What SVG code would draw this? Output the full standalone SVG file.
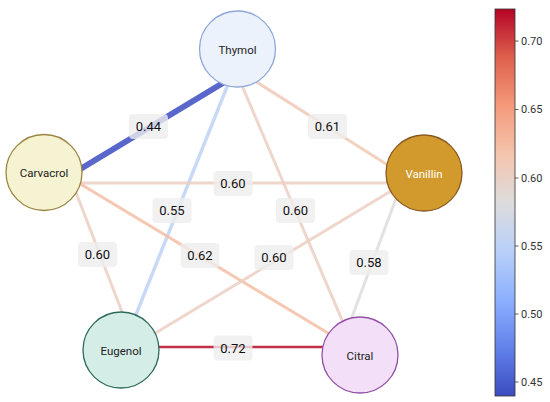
<svg xmlns="http://www.w3.org/2000/svg" width="550" height="402" viewBox="0 0 550 402">
<defs>
<linearGradient id="cw" x1="0" y1="1" x2="0" y2="0">
<stop offset="0" stop-color="#3b4cc0"/>
<stop offset="0.125" stop-color="#6282ea"/>
<stop offset="0.25" stop-color="#8db0fe"/>
<stop offset="0.375" stop-color="#b8d0f9"/>
<stop offset="0.5" stop-color="#dddcdc"/>
<stop offset="0.625" stop-color="#f5c4ad"/>
<stop offset="0.75" stop-color="#f49a7b"/>
<stop offset="0.875" stop-color="#de604d"/>
<stop offset="1" stop-color="#b40426"/>
</linearGradient>
<style>
.e{fill:none;stroke-linecap:butt;stroke-opacity:0.85}
.n{stroke-width:1.3}
.nt{font-family:Roboto,"Liberation Sans",sans-serif;font-size:11.5px;fill:#222;text-anchor:middle;dominant-baseline:central}
.lb{fill:#eeeeee;fill-opacity:0.8}
.lt{font-family:Roboto,"Liberation Sans",sans-serif;font-size:13px;fill:#111;text-anchor:middle;dominant-baseline:central}
.tk{font-family:Roboto,"Liberation Sans",sans-serif;font-size:11px;fill:#333;dominant-baseline:central}
</style>
</defs>
<rect width="550" height="402" fill="#fff"/>
<g id="connectors">
<line class="e" x1="71.7" y1="174.2" x2="233.3" y2="76.8" stroke="#3b4cc0" stroke-width="6"/>
<line class="e" x1="248" y1="76.6" x2="398" y2="171.4" stroke="#f0c9b6" stroke-width="3"/>
<line class="e" x1="230.7" y1="77.7" x2="131.3" y2="326.3" stroke="#bdd2f6" stroke-width="3.5"/>
<line class="e" x1="239.1" y1="78.8" x2="345.9" y2="329.2" stroke="#ebcfc3" stroke-width="3"/>
<line class="e" x1="70" y1="183" x2="400" y2="183" stroke="#ebcfc3" stroke-width="3"/>
<line class="e" x1="73.4" y1="185.7" x2="125.6" y2="321.3" stroke="#ebcfc3" stroke-width="3"/>
<line class="e" x1="73.4" y1="179.8" x2="336.6" y2="338.2" stroke="#f5bea4" stroke-width="3"/>
<line class="e" x1="148.4" y1="337.2" x2="400.6" y2="185.3" stroke="#ebcfc3" stroke-width="3"/>
<line class="e" x1="348.5" y1="326.4" x2="397.1" y2="195.6" stroke="#dcdddd" stroke-width="3"/>
<line class="e" x1="150" y1="347" x2="335" y2="347" stroke="#b70c28" stroke-width="2.5"/>
</g>
<g id="edge-labels">
<rect class="lb" x="129" y="114" width="39" height="25" rx="4"/><text class="lt" x="148.5" y="126.5">0.44</text>
<rect class="lb" x="308" y="114" width="39" height="25" rx="4"/><text class="lt" x="327.5" y="126.5">0.61</text>
<rect class="lb" x="213.5" y="171" width="39" height="25" rx="4"/><text class="lt" x="233" y="183.5">0.60</text>
<rect class="lb" x="152.5" y="198" width="39" height="25" rx="4"/><text class="lt" x="172" y="210.5">0.55</text>
<rect class="lb" x="276" y="198" width="39" height="25" rx="4"/><text class="lt" x="295.5" y="210.5">0.60</text>
<rect class="lb" x="78" y="242" width="39" height="25" rx="4"/><text class="lt" x="97.5" y="254.5">0.60</text>
<rect class="lb" x="180.5" y="243" width="39" height="25" rx="4"/><text class="lt" x="200" y="255.5">0.62</text>
<rect class="lb" x="254.5" y="245" width="39" height="25" rx="4"/><text class="lt" x="274" y="257.5">0.60</text>
<rect class="lb" x="349.5" y="250" width="39" height="25" rx="4"/><text class="lt" x="369" y="262.5">0.58</text>
<rect class="lb" x="213.5" y="335.5" width="39" height="25" rx="4"/><text class="lt" x="233" y="348">0.72</text>
</g>
<g id="thymol"><circle class="n" cx="237.5" cy="49" r="38" fill="#ebf2fc" stroke="#8ea8d8"/><text class="nt" x="237.5" y="49.5">Thymol</text></g>
<g id="carvacrol"><circle class="n" cx="44" cy="172.5" r="38" fill="#f6f3d3" stroke="#9c8540"/><text class="nt" x="44" y="173">Carvacrol</text></g>
<g id="vanillin"><circle class="n" cx="424" cy="173" r="38" fill="#d29a2c" stroke="#8a5a22"/><text class="nt" x="424" y="173.5" style="fill:#fff">Vanillin</text></g>
<g id="eugenol"><circle class="n" cx="121" cy="350" r="38" fill="#d5ede7" stroke="#2f6a5a"/><text class="nt" x="121" y="350.5">Eugenol</text></g>
<g id="citral"><circle class="n" cx="360" cy="355" r="38" fill="#f3e0f8" stroke="#9150a6"/><text class="nt" x="360" y="355.5">Citral</text></g>
<g id="colorbar">
<rect x="495" y="9" width="20" height="387" fill="url(#cw)" stroke="#333" stroke-width="0.8"/>
<g stroke="#333" stroke-width="0.8">
<line x1="515" y1="41" x2="518.5" y2="41"/>
<line x1="515" y1="109.5" x2="518.5" y2="109.5"/>
<line x1="515" y1="178" x2="518.5" y2="178"/>
<line x1="515" y1="246" x2="518.5" y2="246"/>
<line x1="515" y1="314" x2="518.5" y2="314"/>
<line x1="515" y1="382" x2="518.5" y2="382"/>
</g>
<text class="tk" x="521" y="41">0.70</text>
<text class="tk" x="521" y="109.5">0.65</text>
<text class="tk" x="521" y="178">0.60</text>
<text class="tk" x="521" y="246">0.55</text>
<text class="tk" x="521" y="314">0.50</text>
<text class="tk" x="521" y="382">0.45</text>
</g>
</svg>
